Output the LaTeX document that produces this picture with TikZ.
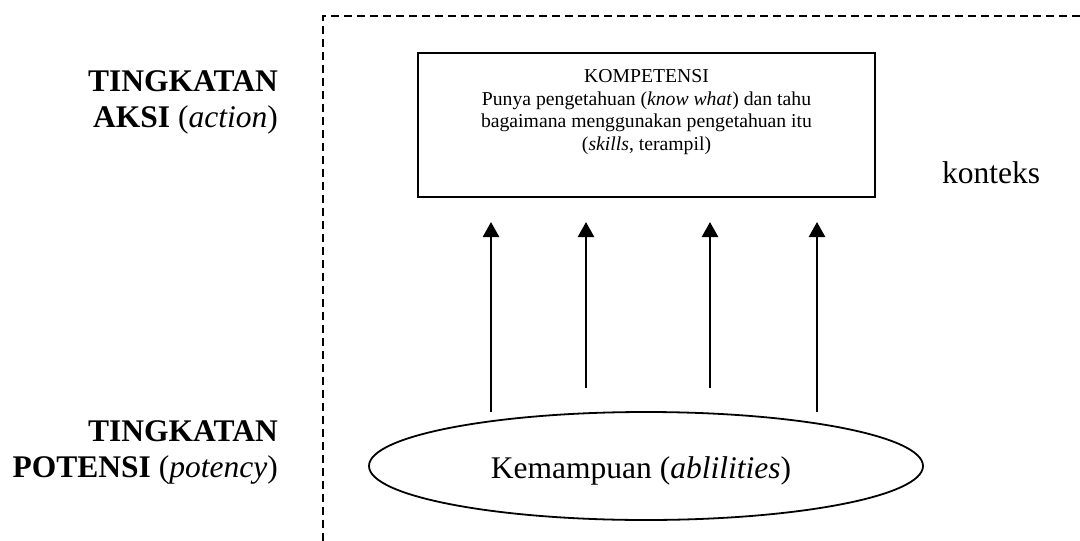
\documentclass[tikz,border=0pt]{standalone}
\usepackage{fontspec}
\setmainfont{Liberation Serif}
\usetikzlibrary{arrows.meta,shapes.geometric}
\begin{document}
\begin{tikzpicture}[x=1pt,y=-1pt,
  big/.style={font=\fontsize{31.5}{36.2}\selectfont, inner sep=0pt},
  small/.style={font=\fontsize{19.7}{22.7}\selectfont, inner sep=0pt, align=center},
  frame/.style={draw, line width=1.6pt, dash pattern=on 8pt off 5pt},
  kbox/.style={draw, line width=2.2pt, minimum width=457pt, minimum height=144pt, inner sep=0pt},
  kell/.style={draw, ellipse, line width=1.8pt, minimum width=554pt, minimum height=108pt, inner sep=0pt},
  up/.style={line width=2.5pt, -{Triangle[length=15pt,width=16pt]}}]
\useasboundingbox (0,0) rectangle (1080,541);
% context frame
\coordinate (fb) at (323,541);
\coordinate (fc) at (323,16);
\coordinate (fr) at (1080,16);
\draw[frame] (fb) -- (fc) -- (fr);
% left labels
\node[big, anchor=base east] (t1) at (278,91) {\textbf{TINGKATAN}};
\node[big, anchor=base east] (t2) at (278,127) {\textbf{AKSI} (\textit{action})};
\node[big, anchor=base east] (t3) at (278,441) {\textbf{TINGKATAN}};
\node[big, anchor=base east] (t4) at (278,477) {\textbf{POTENSI} (\textit{potency})};
% competence box
\node[kbox] (box) at (646.5,125) {};
\node[small] (boxtxt) at (646.5,112) {KOMPETENSI\\Punya pengetahuan (\textit{know what}) dan tahu\\bagaimana menggunakan pengetahuan itu\\(\textit{skills}, terampil)};
% context label
\node[big, anchor=base] (ctx) at (991,183) {konteks};
% abilities ellipse
\node[kell] (ell) at (646,466) {};
\node[big, anchor=base] (kem) at (641,478) {Kemampuan (\textit{ablilities})};
% arrows
\coordinate (a1s) at (491,412); \coordinate (a1e) at (491,222);
\coordinate (a2s) at (586,388); \coordinate (a2e) at (586,222);
\coordinate (a3s) at (710,388); \coordinate (a3e) at (710,222);
\coordinate (a4s) at (817,412); \coordinate (a4e) at (817,222);
\draw[up] (a1s) -- (a1e);
\draw[up] (a2s) -- (a2e);
\draw[up] (a3s) -- (a3e);
\draw[up] (a4s) -- (a4e);
\end{tikzpicture}
\end{document}
